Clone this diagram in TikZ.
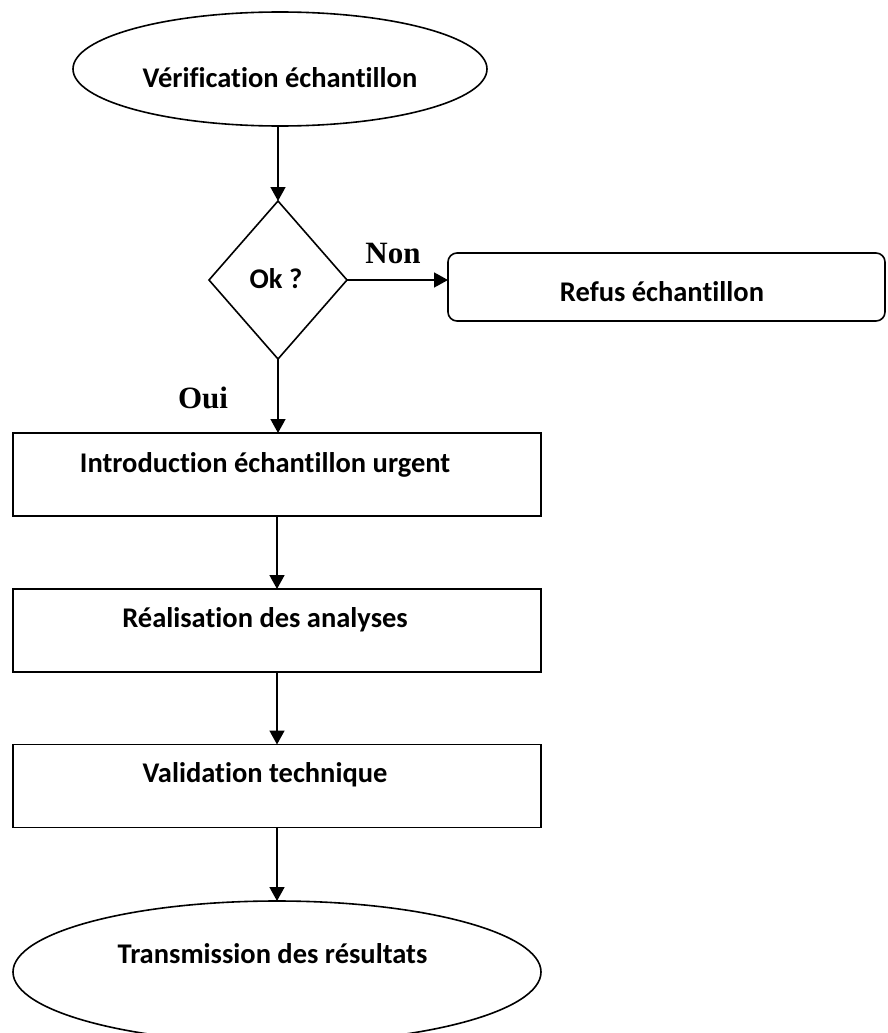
\documentclass[tikz,border=0pt]{standalone}
\usepackage{fontspec}
\setmainfont{Carlito}[Ligatures={NoCommon,NoRequired,NoContextual}]
\newfontfamily\timesf{Liberation Serif}
\usetikzlibrary{shapes.geometric,arrows.meta}
\begin{document}
\begin{tikzpicture}[x=1pt,y=-1pt,
  lw/.style={line width=1.6pt},
  shapebox/.style={draw,lw,inner sep=0pt,outer sep=0pt},
  rectbox/.style={shapebox,rectangle,minimum width=528pt,minimum height=83pt},
  txt/.style={anchor=base,inner sep=0pt,font=\fontsize{28.5}{34}\selectfont\bfseries},
  ontxt/.style={anchor=base,inner sep=0pt,font=\fontsize{31}{36}\selectfont\timesf\bfseries},
  arr/.style={lw,-{Triangle[width=15pt,length=14pt]}}
]
\useasboundingbox (0,0) rectangle (887,1033);
% shapes
\node[shapebox,ellipse,minimum width=414pt,minimum height=114pt] (verif) at (280,69) {};
\node[shapebox,diamond,minimum width=138pt,minimum height=158pt] (ok) at (278,280) {};
\node[shapebox,rectangle,rounded corners=9pt,minimum width=437pt,minimum height=68pt] (refus) at (666.5,287) {};
\node[rectbox] (intro) at (277,474.5) {};
\node[rectbox] (real) at (277,630.5) {};
\node[rectbox] (valid) at (277,786) {};
\node[shapebox,ellipse,minimum width=528pt,minimum height=142pt] (trans) at (277,972) {};
% texts
\node[txt] (tverif) at (280,87) {Vérification échantillon};
\node[txt] (tok) at (276,288) {Ok ?};
\node[txt] (trefus) at (662,301) {Refus échantillon};
\node[txt] (tintro) at (265,472) {Introduction échantillon urgent};
\node[txt] (treal) at (265,627) {Réalisation des analyses};
\node[txt] (tvalid) at (265,782) {Validation technique};
\node[txt] (ttrans) at (272.5,963) {Transmission des résultats};
\node[ontxt] (tnon) at (393,263) {Non};
\node[ontxt] (toui) at (203,408) {Oui};
% connectors
\draw[arr] (verif.south -| ok.north) -- (ok.north);
\draw[arr] (ok.east) -- (ok.east -| refus.west);
\draw[arr] (ok.south) -- (intro.north -| ok.south);
\draw[arr] (intro.south) -- (real.north);
\draw[arr] (real.south) -- (valid.north);
\draw[arr] (valid.south) -- (trans.north);
\end{tikzpicture}
\end{document}
